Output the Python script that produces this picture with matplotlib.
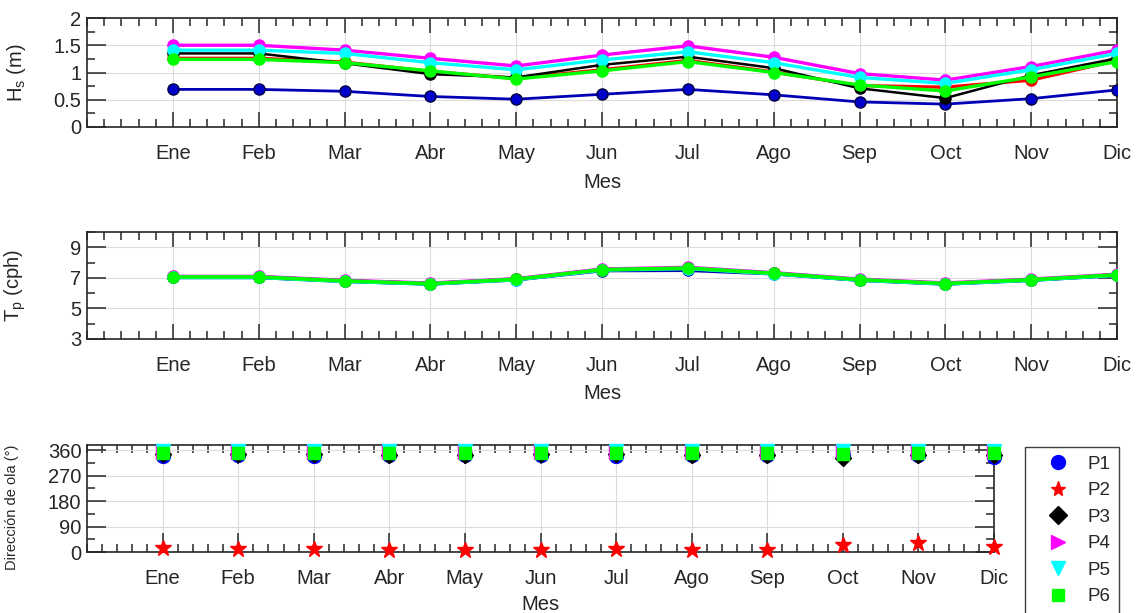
import matplotlib
matplotlib.use("Agg")
import matplotlib.pyplot as plt
from matplotlib.ticker import MultipleLocator, FixedLocator, FuncFormatter
from matplotlib.lines import Line2D

plt.rcParams['font.family'] = ['Liberation Sans', 'DejaVu Sans']
plt.rcParams['mathtext.fontset'] = 'custom'
plt.rcParams['mathtext.rm'] = 'Liberation Sans'
plt.rcParams['mathtext.it'] = 'Liberation Sans'

meses = ['Ene', 'Feb', 'Mar', 'Abr', 'May', 'Jun',
         'Jul', 'Ago', 'Sep', 'Oct', 'Nov', 'Dic']
puntos = ['P1', 'P2', 'P3', 'P4', 'P5', 'P6']

# Altura significante media mensual (m)
hs_p1 = [0.69, 0.69, 0.655, 0.56, 0.51, 0.60, 0.69, 0.59, 0.46, 0.42, 0.52, 0.68]
hs_p2 = [1.26, 1.26, 1.19, 1.02, 0.89, 1.05, 1.22, 1.01, 0.76, 0.73, 0.86, 1.22]
hs_p3 = [1.35, 1.35, 1.17, 0.97, 0.91, 1.14, 1.29, 1.08, 0.71, 0.53, 0.95, 1.26]
hs_p4 = [1.50, 1.50, 1.41, 1.26, 1.12, 1.32, 1.49, 1.28, 0.98, 0.86, 1.11, 1.41]
hs_p5 = [1.41, 1.41, 1.35, 1.18, 1.05, 1.23, 1.38, 1.18, 0.91, 0.80, 1.05, 1.35]
hs_p6 = [1.24, 1.24, 1.18, 1.03, 0.88, 1.03, 1.20, 1.00, 0.77, 0.66, 0.92, 1.20]

# Periodo pico medio mensual
tp_p1 = [7.03, 7.03, 6.78, 6.60, 6.88, 7.48, 7.50, 7.27, 6.85, 6.60, 6.85, 7.17]
tp_p2 = [7.05, 7.05, 6.79, 6.62, 6.90, 7.53, 7.63, 7.29, 6.87, 6.62, 6.87, 7.19]
tp_p3 = [7.05, 7.05, 6.80, 6.62, 6.90, 7.53, 7.62, 7.29, 6.87, 6.62, 6.87, 7.19]
tp_p4 = [7.09, 7.09, 6.83, 6.65, 6.94, 7.57, 7.68, 7.33, 6.91, 6.66, 6.91, 7.23]
tp_p5 = [7.03, 7.03, 6.77, 6.60, 6.88, 7.51, 7.61, 7.27, 6.85, 6.60, 6.85, 7.17]
tp_p6 = [7.06, 7.06, 6.80, 6.62, 6.91, 7.54, 7.64, 7.30, 6.88, 6.63, 6.88, 7.20]

# Dirección media mensual del oleaje (grados)
dir_p1 = [340, 341, 340, 341, 341, 341, 338, 341, 342, 343, 342, 337]
dir_p2 = [13, 12, 12, 8, 8, 8, 9, 8, 8, 25, 31, 19]
dir_p3 = [346, 346, 345, 343, 344, 345, 346, 343, 341, 333, 343, 344]
dir_p4 = [355, 355, 355, 355, 355, 355, 355, 355, 355, 356, 355, 355]
dir_p5 = [356, 356, 356, 356, 356, 356, 356, 356, 356, 356, 356, 356]
dir_p6 = [351, 351, 351, 350, 350, 350, 351, 350, 349, 347, 349, 350]

hs = [hs_p1, hs_p2, hs_p3, hs_p4, hs_p5, hs_p6]
tp = [tp_p1, tp_p2, tp_p3, tp_p4, tp_p5, tp_p6]
direc = [dir_p1, dir_p2, dir_p3, dir_p4, dir_p5, dir_p6]

colores = ['#0000FF', '#FF0000', '#000000', '#FF00FF', '#00FFFF', '#00FF00']
marcadores = ['o', '*', 'D', '>', 'v', 's']
x = list(range(1, 13))

W, H = 1136, 613
fig = plt.figure(figsize=(W / 100, H / 100), dpi=100)


def rect(l, t, r, b):
    return [l / W, 1 - b / H, (r - l) / W, (b - t) / H]


ax1 = fig.add_axes(rect(87, 18, 1117, 127))
ax2 = fig.add_axes(rect(87, 232, 1117, 339))
ax3 = fig.add_axes(rect(87, 445, 994, 552))

TXT = '#262626'
FS = 14.5


def estilo(ax, ymaj, ymin, ylo, yhi, ytl=None):
    ax.set_xlim(0, 12)
    ax.set_ylim(ylo, yhi)
    ax.xaxis.set_major_locator(FixedLocator(x))
    ax.set_xticklabels(meses)
    ax.xaxis.set_minor_locator(MultipleLocator(0.2))
    ax.yaxis.set_major_locator(MultipleLocator(ymaj))
    ax.yaxis.set_minor_locator(MultipleLocator(ymin))
    if ytl is not None:
        ax.yaxis.set_major_formatter(ytl)
    ax.tick_params(which='both', direction='in', top=True, right=True,
                   colors=TXT, labelcolor=TXT, width=1.1)
    ax.tick_params(axis='x', which='major', length=11, pad=12, labelsize=FS)
    ax.tick_params(axis='y', which='major', length=14, pad=4, labelsize=FS)
    ax.tick_params(which='minor', length=6)
    ax.grid(True, which='major', color='#dcdcdc', linewidth=0.8)
    ax.set_axisbelow(True)
    for s in ax.spines.values():
        s.set_color(TXT)
        s.set_linewidth(1.2)
    ax.set_xlabel('Mes', fontsize=FS, color=TXT)
    ax.xaxis.set_label_coords(0.5, -0.42)


estilo(ax1, 0.5, 0.25, 0, 2, FuncFormatter(lambda v, _: '%g' % v))
estilo(ax2, 2, 1, 3, 10)
ax2.yaxis.set_major_locator(FixedLocator([3, 5, 7, 9]))
ax2.yaxis.set_minor_locator(FixedLocator([4, 6, 8, 10]))
estilo(ax3, 90, 45, 0, 378)
ax3.tick_params(axis='x', which='major', length=14)
ax3.xaxis.set_label_coords(0.5, -0.40)

# Altura significante
for i in range(6):
    lw = 2.4 if i != 2 else 1.8
    if i == 0:
        ax1.plot(x, hs[i], color='#0000B4', lw=2.0, marker='o', ms=8,
                 mfc='#0000CC', mec='#000040', zorder=3)
    else:
        ax1.plot(x, hs[i], color=colores[i], lw=lw, marker='o', ms=8,
                 mfc=colores[i], mec=colores[i], zorder=3 + i)
ax1.set_ylabel(r'H$_\mathregular{s}$ (m)', fontsize=FS, color=TXT)
ax1.yaxis.set_label_coords(-0.057, 0.5)

# Periodo pico
for i in range(6):
    c = '#0000B4' if i == 0 else colores[i]
    ax2.plot(x, tp[i], color=c, lw=2.6, marker='o', ms=8,
             mfc=c, mec=c, zorder=3 + i)
ax2.set_ylabel(r'T$_\mathregular{p}$ (cph)', fontsize=FS, color=TXT)
ax2.yaxis.set_label_coords(-0.057, 0.5)

# Dirección
tam = [10, 12, 8, 10, 10, 9]
for i in range(6):
    ax3.plot(x, direc[i], linestyle='none', marker=marcadores[i],
             ms=tam[i], color=colores[i], mec=colores[i],
             zorder=3 + i, clip_on=False)
ax3.set_ylabel('Dirección de ola (°)', fontsize=10.5, color=TXT)
ax3.yaxis.set_label_coords(-0.075, 0.42)

handles = [Line2D([], [], linestyle='none', marker=marcadores[i],
                  color=colores[i], ms=[10, 11, 9, 10, 10, 8][i])
           for i in range(6)]
leg = fig.legend(handles, puntos, loc='upper left',
                 bbox_to_anchor=(1025 / W, 1 - 447 / H), borderaxespad=0,
                 fontsize=13.5, frameon=True, fancybox=False,
                 edgecolor='#404040', framealpha=1, handlelength=2.6,
                 handletextpad=0.3, labelspacing=0.5, borderpad=0.45)
leg.get_frame().set_linewidth(1.0)
for t in leg.get_texts():
    t.set_color(TXT)

fig.savefig('out.png', dpi=100)
